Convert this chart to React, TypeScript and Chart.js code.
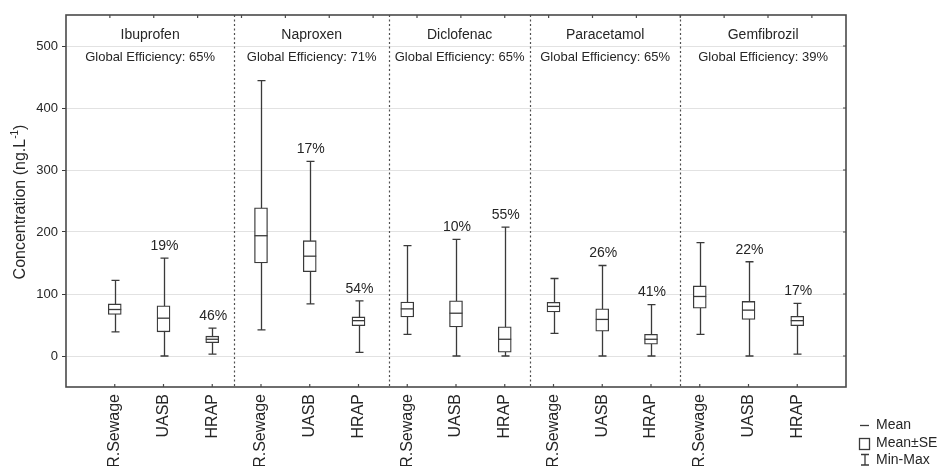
import { useEffect, useRef } from 'react';
import { Chart, registerables } from 'chart.js';

Chart.register(...registerables);

// Compounds (one panel each) and treatment stages (three boxes per panel)
const drugs = ['Ibuprofen', 'Naproxen', 'Diclofenac', 'Paracetamol', 'Gemfibrozil'];
const stages = ['R.Sewage', 'UASB', 'HRAP'];
const globalEfficiency = ['65%', '71%', '65%', '65%', '39%'];

// Concentration statistics (ng/L), ordered drug by drug, stage by stage
const means = [75, 61, 27, 194, 161, 57, 76, 69, 27, 80, 59, 27, 96, 74, 57];
const seLow = [67, 39, 21.5, 150, 136, 49, 63, 47, 6, 71, 40, 19, 77, 59, 49];
const seHigh = [84, 81, 32, 239, 186, 63, 87, 89, 47, 86.5, 76, 35, 113, 88, 64];
const mins = [39, 0, 3, 42, 84, 6, 35, 0, 0, 36.5, 0, 0, 35, 0, 3];
const maxs = [122, 158, 45, 444, 314, 89, 178, 188, 208, 125, 146, 83, 183, 152, 85];

// Removal achieved by each treatment stage
const stageRemoval = ['', '19%', '46%', '', '17%', '54%', '', '10%', '55%', '', '26%', '41%', '', '22%', '17%'];

// Panel boundaries on the x scale, and y tick values
const panelBounds = [3.45, 6.63, 9.52, 12.6];
const yTicks = [0, 100, 200, 300, 400, 500];

const FONT = '"Liberation Sans", Arial, Helvetica, sans-serif';
const INK = '#3a3a3a';
const TEXT = '#262626';

export default function App() {
  const ref = useRef<HTMLCanvasElement>(null);

  useEffect(() => {
    const canvas = ref.current;
    if (!canvas) return;
    const positions = means.map((_, i) => i + 1);

    const overlay = {
      id: 'boxOverlay',
      beforeDatasetsDraw(chart: any) {
        const { ctx, chartArea: a, scales } = chart;
        const x = scales.x;
        const y = scales.y;
        ctx.save();
        // dotted panel separators
        ctx.strokeStyle = '#505050';
        ctx.lineWidth = 1.2;
        ctx.setLineDash([2, 2.5]);
        panelBounds.forEach((b) => {
          const px = Math.round(x.getPixelForValue(b)) + 0.5;
          ctx.beginPath();
          ctx.moveTo(px, a.top);
          ctx.lineTo(px, a.bottom);
          ctx.stroke();
        });
        ctx.setLineDash([]);
        // min-max whiskers
        ctx.strokeStyle = INK;
        ctx.lineWidth = 1.3;
        positions.forEach((p, i) => {
          const px = Math.round(x.getPixelForValue(p)) + 0.5;
          const yMin = y.getPixelForValue(mins[i]);
          const yMax = y.getPixelForValue(maxs[i]);
          ctx.beginPath();
          ctx.moveTo(px, yMin);
          ctx.lineTo(px, yMax);
          ctx.moveTo(px - 4, yMin);
          ctx.lineTo(px + 4, yMin);
          ctx.moveTo(px - 4, yMax);
          ctx.lineTo(px + 4, yMax);
          ctx.stroke();
        });
        ctx.restore();
      },
      afterDraw(chart: any) {
        const { ctx, chartArea: a, scales } = chart;
        const x = scales.x;
        const y = scales.y;
        ctx.save();
        // frame
        ctx.strokeStyle = '#4a4a4a';
        ctx.lineWidth = 1.6;
        ctx.strokeRect(a.left, a.top, a.right - a.left, a.bottom - a.top);
        // small tick marks on the frame
        ctx.lineWidth = 1.2;
        ctx.beginPath();
        for (let k = 1; k <= 17; k++) {
          const px = x.getPixelForValue(0.9 * k);
          ctx.moveTo(px, a.top);
          ctx.lineTo(px, a.top + 3);
        }
        yTicks.forEach((v) => {
          const py = y.getPixelForValue(v);
          ctx.moveTo(a.right, py);
          ctx.lineTo(a.right - 3, py);
        });
        positions.forEach((p) => {
          const px = x.getPixelForValue(p);
          ctx.moveTo(px, a.bottom);
          ctx.lineTo(px, a.bottom - 3);
        });
        ctx.stroke();

        // panel titles
        ctx.fillStyle = TEXT;
        ctx.textAlign = 'center';
        ctx.textBaseline = 'middle';
        const edges = [x.min, ...panelBounds, x.max];
        drugs.forEach((d, j) => {
          const cx = (x.getPixelForValue(edges[j]) + x.getPixelForValue(edges[j + 1])) / 2;
          ctx.font = `14px ${FONT}`;
          ctx.fillText(d, cx, a.top + 20);
          ctx.font = `13px ${FONT}`;
          ctx.fillText(`Global Efficiency: ${globalEfficiency[j]}`, cx, a.top + 42);
        });

        // stage removal labels above the whiskers
        ctx.font = `14px ${FONT}`;
        positions.forEach((p, i) => {
          if (!stageRemoval[i]) return;
          ctx.fillText(stageRemoval[i], x.getPixelForValue(p) + 1, y.getPixelForValue(maxs[i]) - 12);
        });

        // y axis title with superscript
        ctx.save();
        ctx.translate(21, (a.top + a.bottom) / 2 + 1);
        ctx.rotate(-Math.PI / 2);
        ctx.textAlign = 'left';
        ctx.textBaseline = 'middle';
        const main = 'Concentration (ng.L';
        const sup = '-1';
        const close = ')';
        ctx.font = `16px ${FONT}`;
        const w1 = ctx.measureText(main).width;
        const w3 = ctx.measureText(close).width;
        ctx.font = `10px ${FONT}`;
        const w2 = ctx.measureText(sup).width;
        let sx = -(w1 + w2 + w3) / 2;
        ctx.font = `16px ${FONT}`;
        ctx.fillText(main, sx, 0);
        sx += w1;
        ctx.font = `10px ${FONT}`;
        ctx.fillText(sup, sx, -6);
        sx += w2;
        ctx.font = `16px ${FONT}`;
        ctx.fillText(close, sx, 0);
        ctx.restore();

        // legend
        const lx = 859;
        ctx.strokeStyle = INK;
        ctx.lineWidth = 1.3;
        ctx.beginPath();
        ctx.moveTo(lx + 1, 425.5);
        ctx.lineTo(lx + 10, 425.5);
        ctx.stroke();
        ctx.strokeRect(lx + 0.5, 438.5, 10, 11);
        ctx.beginPath();
        ctx.moveTo(lx + 2, 454.5);
        ctx.lineTo(lx + 10, 454.5);
        ctx.moveTo(lx + 6, 454.5);
        ctx.lineTo(lx + 6, 465);
        ctx.moveTo(lx + 2, 465);
        ctx.lineTo(lx + 10, 465);
        ctx.stroke();
        ctx.fillStyle = TEXT;
        ctx.font = `14px ${FONT}`;
        ctx.textAlign = 'left';
        ctx.textBaseline = 'middle';
        ctx.fillText('Mean', 876, 425);
        ctx.fillText('Mean±SE', 876, 443);
        ctx.fillText('Min-Max', 876, 460);
        ctx.restore();
      },
    };

    const chart = new Chart(canvas, {
      type: 'bar',
      data: {
        datasets: [
          {
            type: 'bar',
            label: 'Mean±SE',
            data: positions.map((p, i) => ({ x: p, y: [seLow[i], seHigh[i]] })) as any,
            backgroundColor: '#ffffff',
            borderColor: INK,
            borderWidth: 1.3,
            borderSkipped: false,
            barThickness: 13,
            order: 2,
          },
          {
            type: 'scatter',
            label: 'Mean',
            data: positions.map((p, i) => ({ x: p, y: means[i] })),
            pointStyle: 'line',
            pointRadius: 6.5,
            pointBorderColor: INK,
            pointBorderWidth: 1.3,
            borderColor: INK,
            showLine: false,
            order: 1,
          } as any,
        ],
      },
      options: {
        animation: false,
        responsive: true,
        maintainAspectRatio: false,
        layout: { padding: { top: 15, right: 93, left: 0, bottom: 0 } },
        plugins: {
          legend: { display: false },
          tooltip: { enabled: false },
        },
        scales: {
          x: {
            type: 'linear',
            min: 0,
            max: 16,
            offset: false,
            grid: { display: false, drawTicks: false, tickLength: 0 },
            border: { display: false },
            afterBuildTicks: (scale: any) => {
              scale.ticks = positions.map((p) => ({ value: p }));
            },
            afterFit: (scale: any) => {
              scale.height = 79;
            },
            ticks: {
              autoSkip: false,
              maxRotation: 90,
              minRotation: 90,
              padding: 7,
              color: TEXT,
              font: { family: FONT, size: 16 },
              callback: (v: any) => stages[(Number(v) - 1) % 3],
            },
          },
          y: {
            type: 'linear',
            min: -50,
            max: 550,
            afterBuildTicks: (scale: any) => {
              scale.ticks = yTicks.map((v) => ({ value: v }));
            },
            afterFit: (scale: any) => {
              scale.width = 66;
            },
            grid: {
              color: '#e2e2e2',
              lineWidth: 1,
              tickColor: INK,
              tickLength: 4,
              drawTicks: true,
            },
            border: { display: false },
            ticks: {
              padding: 4,
              color: TEXT,
              font: { family: FONT, size: 13 },
            },
          },
        },
      },
      plugins: [overlay],
    });

    return () => chart.destroy();
  }, []);

  return (
    <div style={{ position: 'fixed', left: 0, top: 0, width: 939, height: 466, background: '#fff' }}>
      <canvas ref={ref} />
    </div>
  );
}
